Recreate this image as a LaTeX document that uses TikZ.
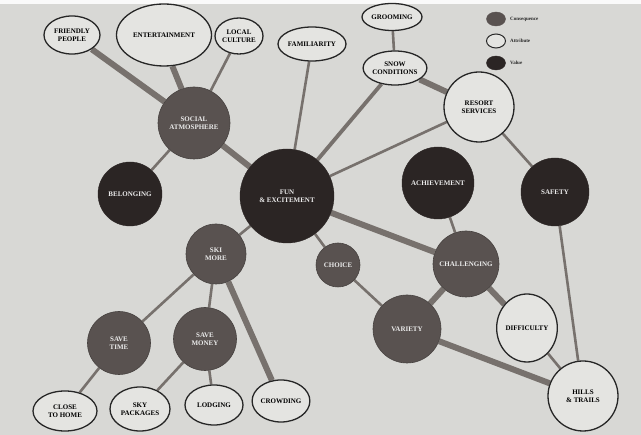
\documentclass[tikz,border=0pt]{standalone}
\usepackage{fontspec}
\setmainfont{Liberation Serif}
\usetikzlibrary{shapes.geometric}
\pgfdeclarelayer{bg}
\pgfdeclarelayer{edges}
\pgfsetlayers{bg,edges,main}
\definecolor{paper}{HTML}{D8D8D5}
\definecolor{consc}{HTML}{595250}
\definecolor{valc}{HTML}{2B2524}
\definecolor{attrc}{HTML}{E4E4E1}
\definecolor{linec}{HTML}{77716D}
\tikzset{
  lbl/.style={font=\fontsize{7}{7.6}\selectfont\bfseries, align=center, inner sep=0pt},
  cons/.style={lbl, circle, fill=consc, draw=consc!80!black, line width=0.6pt, text=white!92!black},
  val/.style={lbl, circle, fill=valc, draw=valc, text=white!92!black},
  attr/.style={lbl, ellipse, fill=attrc, draw=black!85, line width=1.3pt, text=black},
  thinlink/.style={draw=linec, line width=2.6pt},
  midlink/.style={draw=linec, line width=3.8pt},
  thicklink/.style={draw=linec, line width=6pt},
  legtext/.style={font=\fontsize{5}{6}\selectfont\bfseries, anchor=west, inner sep=0pt, text=black!85}
}
\begin{document}
\begin{tikzpicture}[x=1pt,y=-1pt]
\begin{pgfonlayer}{bg}
\fill[paper] (0,0) rectangle (641,435);
\fill[white!96!gray] (0,0) rectangle (641,4);
\end{pgfonlayer}
\useasboundingbox (0,0) rectangle (641,435);
% attributes
\node[attr, minimum width=56, minimum height=38] (friendly) at (72,35) {FRIENDLY\\PEOPLE};
\node[attr, minimum width=95, minimum height=62] (entert) at (164,35) {ENTERTAINMENT};
\node[attr, minimum width=48, minimum height=36] (local) at (239,36) {LOCAL\\CULTURE};
\node[attr, minimum width=63, minimum height=34] (famil) at (312,44) {FAMILIARITY};
\node[attr, minimum width=60, minimum height=27] (groom) at (392,17) {GROOMING};
\node[attr, minimum width=62, minimum height=34] (snow) at (395,68) {SNOW\\CONDITIONS};
\node[attr, minimum width=70, minimum height=70] (resort) at (479,107) {RESORT\\SERVICES};
\node[attr, minimum width=58, minimum height=68] (diff) at (527,328) {DIFFICULTY};
\node[attr, minimum width=70, minimum height=70] (hills) at (583,396) {HILLS\\\& TRAILS};
\node[attr, minimum width=64, minimum height=40] (close) at (65,411) {CLOSE\\TO HOME};
\node[attr, minimum width=60, minimum height=44] (sky) at (140,409) {SKY\\PACKAGES};
\node[attr, minimum width=58, minimum height=40] (lodg) at (214,405) {LODGING};
\node[attr, minimum width=56, minimum height=42] (crowd) at (281,401) {CROWDING};
% consequences
\node[cons, minimum size=72] (social) at (194,123) {SOCIAL\\ATMOSPHERE};
\node[cons, minimum size=60] (skimore) at (216,254) {SKI\\MORE};
\node[cons, minimum size=44] (choice) at (338,265) {CHOICE};
\node[cons, minimum size=66] (chall) at (466,264) {CHALLENGING};
\node[cons, minimum size=68] (variety) at (407,329) {VARIETY};
\node[cons, minimum size=63] (savetime) at (119,343) {SAVE\\TIME};
\node[cons, minimum size=63] (savemoney) at (205,339) {SAVE\\MONEY};
% values
\node[val, minimum size=64] (belong) at (130,194) {BELONGING};
\node[val, minimum size=94] (fun) at (287,196) {FUN\\\& EXCITEMENT};
\node[val, minimum size=72] (achieve) at (438,183) {ACHIEVEMENT};
\node[val, minimum size=68] (safety) at (555,192) {SAFETY};
% legend
\node[ellipse, fill=consc, draw=consc, minimum width=19, minimum height=14, inner sep=0] (lcons) at (496,19) {};
\node[ellipse, fill=attrc, draw=black!85, line width=1pt, minimum width=19, minimum height=14, inner sep=0] (lattr) at (496,41) {};
\node[ellipse, fill=valc, draw=valc, minimum width=19, minimum height=14, inner sep=0] (lval) at (496,63) {};
\node[legtext] (tcons) at (510,19) {Consequence};
\node[legtext] (tattr) at (510,41) {Attribute};
\node[legtext] (tval) at (510,63) {Value};
% links
\begin{pgfonlayer}{edges}
\draw[thicklink] (friendly) -- (social);
\draw[thicklink] (entert.-75) -- (social.110);
\draw[thinlink] (local) -- (social);
\draw[thinlink] (social) -- (belong);
\draw[thicklink] (social) -- (fun);
\draw[thinlink] (famil) -- (fun);
\draw[midlink] (snow) -- (fun);
\draw[thinlink] (groom) -- (snow);
\draw[thicklink] (snow) -- (resort);
\draw[thinlink] (resort) -- (fun);
\draw[thinlink] (resort) -- (safety);
\draw[thinlink] (fun) -- (skimore);
\draw[thinlink] (fun) -- (choice);
\draw[thicklink] (fun) -- (chall);
\draw[thinlink] (achieve) -- (chall);
\draw[thicklink] (chall) -- (variety);
\draw[thicklink] (chall) -- (diff);
\draw[thinlink] (choice) -- (variety);
\draw[thicklink] (variety) -- (hills);
\draw[thinlink] (diff) -- (hills);
\draw[thinlink] (safety) -- (hills);
\draw[thinlink] (skimore) -- (savetime);
\draw[thinlink] (skimore) -- (savemoney);
\draw[thicklink] (skimore) -- (crowd);
\draw[thinlink] (savetime) -- (close);
\draw[thinlink] (savemoney) -- (sky);
\draw[thinlink] (savemoney) -- (lodg);
\end{pgfonlayer}
\end{tikzpicture}
\end{document}
